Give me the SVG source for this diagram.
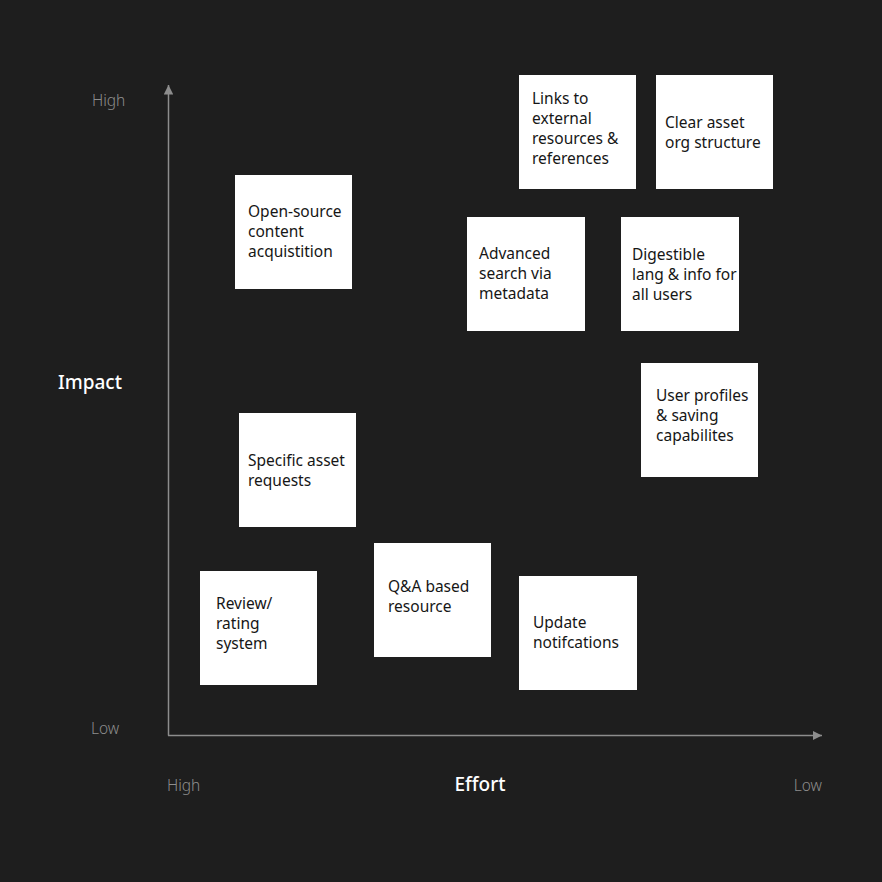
<svg xmlns="http://www.w3.org/2000/svg" width="882" height="882" viewBox="0 0 882 882">
<style>
.card{fill:#ffffff}
.ct{font-family:"Noto Sans","Liberation Sans",sans-serif;font-size:15.5px;fill:#161616}
.ax{stroke:#8d8d8d;stroke-width:1.5;fill:none}
.lv{font-family:"Noto Sans","Liberation Sans",sans-serif;font-size:15.5px;fill:#8d8d8d;font-weight:300}
.tt{font-family:"Noto Sans","Liberation Sans",sans-serif;font-size:19px;fill:#ffffff;font-weight:500}
</style>
<defs>
<marker id="arr" viewBox="0 0 10 10" refX="10" refY="5" markerWidth="9.5" markerHeight="9.5" markerUnits="userSpaceOnUse" orient="auto">
<path d="M0,0 L10,5 L0,10 z" fill="#8d8d8d"/>
</marker>
</defs>
<rect width="882" height="882" fill="#1e1e1e"/>
<g id="connectors">
<path class="ax" d="M168.5,735.5 L168.5,85" marker-end="url(#arr)"/>
<path class="ax" d="M168,735.5 L822,735.5" marker-end="url(#arr)"/>
</g>
<g id="labels">
<text class="lv" x="92" y="106">High</text>
<text class="lv" x="91" y="734">Low</text>
<text class="lv" x="167" y="791">High</text>
<text class="lv" x="822" y="791" text-anchor="end">Low</text>
<text class="tt" x="58" y="389">Impact</text>
<text class="tt" x="480" y="791" text-anchor="middle">Effort</text>
</g>
<g id="links">
<rect class="card" x="519" y="75" width="117" height="114"/>
<text class="ct" x="532" y="104">Links to</text>
<text class="ct" x="532" y="124">external</text>
<text class="ct" x="532" y="144">resources &amp;</text>
<text class="ct" x="532" y="164">references</text>
</g>
<g id="clear">
<rect class="card" x="656" y="75" width="117" height="114"/>
<text class="ct" x="665" y="128">Clear asset</text>
<text class="ct" x="665" y="148">org structure</text>
</g>
<g id="opensource">
<rect class="card" x="235" y="175" width="117" height="114"/>
<text class="ct" x="248" y="217">Open-source</text>
<text class="ct" x="248" y="237">content</text>
<text class="ct" x="248" y="257">acquistition</text>
</g>
<g id="advanced">
<rect class="card" x="467" y="217" width="118" height="114"/>
<text class="ct" x="479" y="259">Advanced</text>
<text class="ct" x="479" y="279">search via</text>
<text class="ct" x="479" y="299">metadata</text>
</g>
<g id="digestible">
<rect class="card" x="621" y="217" width="118" height="114"/>
<text class="ct" x="632" y="260">Digestible</text>
<text class="ct" x="632" y="280">lang &amp; info for</text>
<text class="ct" x="632" y="300">all users</text>
</g>
<g id="profiles">
<rect class="card" x="641" y="363" width="117" height="114"/>
<text class="ct" x="656" y="401">User profiles</text>
<text class="ct" x="656" y="421">&amp; saving</text>
<text class="ct" x="656" y="441">capabilites</text>
</g>
<g id="specific">
<rect class="card" x="239" y="413" width="117" height="114"/>
<text class="ct" x="248" y="466">Specific asset</text>
<text class="ct" x="248" y="486">requests</text>
</g>
<g id="review">
<rect class="card" x="200" y="571" width="117" height="114"/>
<text class="ct" x="216" y="609">Review/</text>
<text class="ct" x="216" y="629">rating</text>
<text class="ct" x="216" y="649">system</text>
</g>
<g id="qa">
<rect class="card" x="374" y="543" width="117" height="114"/>
<text class="ct" x="388" y="592">Q&amp;A based</text>
<text class="ct" x="388" y="612">resource</text>
</g>
<g id="update">
<rect class="card" x="519" y="576" width="118" height="114"/>
<text class="ct" x="533" y="628">Update</text>
<text class="ct" x="533" y="648">notifcations</text>
</g>
</svg>
